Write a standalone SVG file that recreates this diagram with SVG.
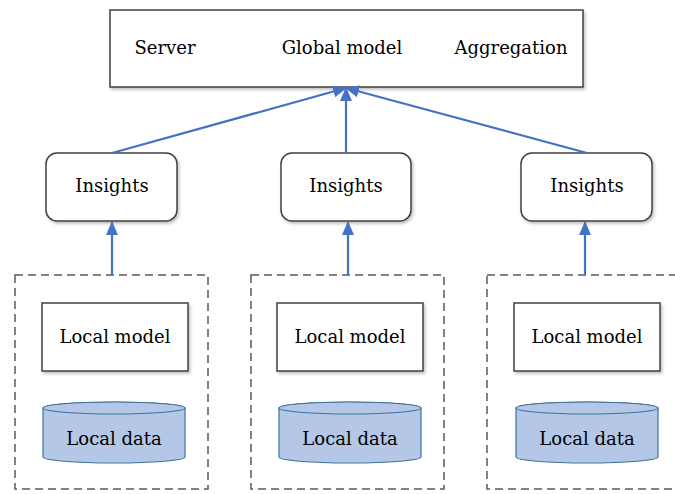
<svg xmlns="http://www.w3.org/2000/svg" width="675" height="494" viewBox="0 0 675 494">
  <style>
    .lbl { font-family: "DejaVu Serif", serif; font-size: 18px; fill: #000; text-anchor: middle; }
    .box { fill: #fff; stroke: #404040; stroke-width: 1.5; filter: url(#shadow); }
    .group { fill: none; stroke: #595959; stroke-width: 1.5; stroke-dasharray: 8 5; }
    .db { fill: #b4c7e7; stroke: #41719c; stroke-width: 1.2; }
    .link { stroke: #4472c4; stroke-width: 2.2; fill: none; marker-end: url(#arrow); }
  </style>
  <defs>
    <filter id="shadow" x="-10%" y="-10%" width="125%" height="135%">
      <feDropShadow dx="1.5" dy="2" stdDeviation="1.5" flood-color="#000" flood-opacity="0.25"/>
    </filter>
    <marker id="arrow" markerWidth="14" markerHeight="14" refX="13" refY="7" orient="auto" markerUnits="userSpaceOnUse" viewBox="0 0 14 14">
      <path d="M0,1 L14,7 L0,13 Z" fill="#4472c4"/>
    </marker>
  </defs>

  <!-- server -->
  <g id="server">
    <rect class="box" x="110" y="10" width="473" height="77"/>
    <text class="lbl" x="165" y="54">Server</text>
    <text class="lbl" x="342" y="54">Global model</text>
    <text class="lbl" x="511" y="54">Aggregation</text>
  </g>

  <!-- insight nodes -->
  <g id="insights-1">
    <rect class="box" x="46" y="153" width="131" height="68" rx="11"/>
    <text class="lbl" x="112" y="192">Insights</text>
  </g>
  <g id="insights-2">
    <rect class="box" x="281" y="153" width="130" height="68" rx="11"/>
    <text class="lbl" x="346" y="192">Insights</text>
  </g>
  <g id="insights-3">
    <rect class="box" x="521" y="153" width="131" height="68" rx="11"/>
    <text class="lbl" x="587" y="192">Insights</text>
  </g>

  <!-- clients -->
  <g id="client-1">
    <rect class="group" x="15" y="275" width="193" height="214"/>
    <rect class="box" x="42" y="303" width="146" height="68"/>
    <text class="lbl" x="115" y="343">Local model</text>
    <path class="db" d="M43,408 L43,457 A71,6 0 0 0 185,457 L185,408 A71,6 0 0 0 43,408 Z"/>
    <ellipse class="db" cx="114" cy="408" rx="71" ry="6"/>
    <text class="lbl" x="114" y="445">Local data</text>
  </g>
  <g id="client-2">
    <rect class="group" x="251" y="275" width="193" height="214"/>
    <rect class="box" x="277" y="303" width="146" height="68"/>
    <text class="lbl" x="350" y="343">Local model</text>
    <path class="db" d="M279,408 L279,457 A71,6 0 0 0 421,457 L421,408 A71,6 0 0 0 279,408 Z"/>
    <ellipse class="db" cx="350" cy="408" rx="71" ry="6"/>
    <text class="lbl" x="350" y="445">Local data</text>
  </g>
  <g id="client-3">
    <rect class="group" x="487" y="275" width="200" height="214"/>
    <rect class="box" x="514" y="303" width="146" height="68"/>
    <text class="lbl" x="587" y="343">Local model</text>
    <path class="db" d="M516,408 L516,457 A71,6 0 0 0 658,457 L658,408 A71,6 0 0 0 516,408 Z"/>
    <ellipse class="db" cx="587" cy="408" rx="71" ry="6"/>
    <text class="lbl" x="587" y="445">Local data</text>
  </g>

  <!-- connectors -->
  <g id="connectors">
    <line class="link" x1="112" y1="153" x2="346" y2="88"/>
    <line class="link" x1="346" y1="153" x2="346" y2="88"/>
    <line class="link" x1="587" y1="153" x2="346" y2="88"/>
    <line class="link" x1="112" y1="275" x2="112" y2="222"/>
    <line class="link" x1="348" y1="275" x2="348" y2="222"/>
    <line class="link" x1="585" y1="275" x2="585" y2="222"/>
  </g>
</svg>
